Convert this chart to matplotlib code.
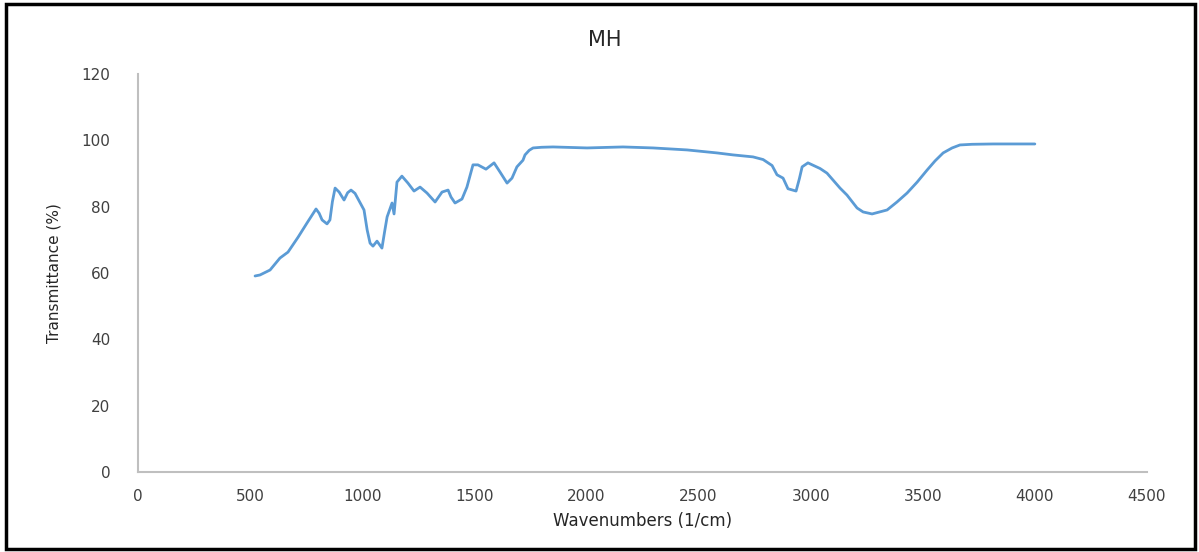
import matplotlib.pyplot as plt
from matplotlib.patches import Rectangle

# FTIR spectrum
wavenumber = [522, 544, 589, 633, 669, 714, 754, 794, 808, 821, 843, 856, 867, 879, 897,
              919, 935, 950, 968, 1008, 1022, 1035, 1048, 1066, 1088, 1100, 1111, 1133,
              1142, 1155, 1177, 1204, 1231, 1258, 1289, 1325, 1356, 1383, 1396, 1414,
              1445, 1467, 1494, 1516, 1552, 1588, 1615, 1646, 1668, 1690, 1717, 1726,
              1745, 1762, 1800, 1851, 2003, 2163, 2297, 2449, 2582, 2654, 2743, 2788,
              2828, 2850, 2877, 2899, 2935, 2950, 2962, 2988, 3042, 3073, 3131, 3162,
              3207, 3234, 3274, 3341, 3385, 3430, 3475, 3519, 3555, 3591, 3631, 3666,
              3720, 3814, 4000]
transmittance = [59.1, 59.4, 60.9, 64.5, 66.3, 70.8, 75.1, 79.3, 78.0, 76.0, 74.8, 76.0,
                 81.5, 85.6, 84.4, 82.0, 84.2, 85.0, 84.0, 79.0, 73.0, 69.0, 68.1, 69.6,
                 67.5, 72.5, 76.9, 81.1, 77.8, 87.4, 89.2, 87.1, 84.7, 85.9, 84.1, 81.4,
                 84.4, 85.0, 82.9, 81.1, 82.3, 85.9, 92.6, 92.6, 91.3, 93.2, 90.4, 87.1,
                 88.6, 92.0, 94.0, 95.6, 97.0, 97.7, 97.9, 98.0, 97.7, 98.0, 97.7, 97.1,
                 96.2, 95.6, 95.0, 94.2, 92.4, 89.6, 88.6, 85.4, 84.7, 88.5, 92.0, 93.2,
                 91.5, 90.1, 85.6, 83.5, 79.6, 78.4, 77.8, 79.0, 81.4, 84.1, 87.4, 91.0,
                 93.8, 96.2, 97.7, 98.6, 98.8, 98.9, 98.9]

xticks = [0, 500, 1000, 1500, 2000, 2500, 3000, 3500, 4000, 4500]
yticks = [0, 20, 40, 60, 80, 100, 120]

fig = plt.figure(figsize=(11.99, 5.52), dpi=100)
ax = fig.add_axes([0.1151, 0.1449, 0.9566 - 0.1151, 0.866 - 0.1449])

ax.plot(wavenumber, transmittance, color='#5B9BD5', linewidth=2.0,
        solid_joinstyle='round', solid_capstyle='round')

ax.set_xlim(0, 4500)
ax.set_ylim(0, 120)
ax.set_xticks(xticks)
ax.set_yticks(yticks)
ax.tick_params(length=0, labelsize=11, colors='#404040')
ax.tick_params(axis='y', pad=20)
ax.tick_params(axis='x', pad=12)

for s in ['top', 'right']:
    ax.spines[s].set_visible(False)
for s in ['left', 'bottom']:
    ax.spines[s].set_color('#BFBFBF')
    ax.spines[s].set_linewidth(1.5)

ax.set_xlabel('Wavenumbers (1/cm)', fontsize=12, color='#262626', labelpad=6)
ax.set_ylabel('Transmittance (%)', fontsize=11, color='#262626', labelpad=14)
fig.text(0.504, 0.928, 'MH', ha='center', va='center', fontsize=15, color='#262626')

# outer frame
fig.patches.append(Rectangle((0.005, 0.006), 0.992, 0.986, transform=fig.transFigure,
                             fill=False, edgecolor='black', linewidth=2.5))

fig.savefig('out.png', dpi=100)
